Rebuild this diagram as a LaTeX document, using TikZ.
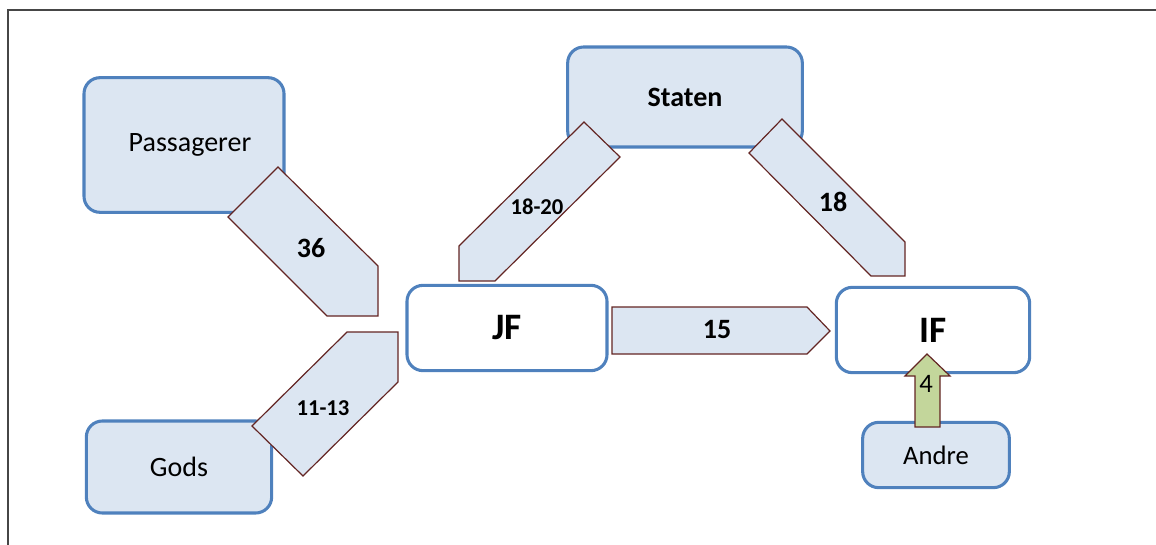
\documentclass[tikz,border=0pt]{standalone}
\usepackage{fontspec}
\setmainfont{Carlito}

\definecolor{boxfill}{RGB}{220,230,242}
\definecolor{boxline}{RGB}{79,129,189}
\definecolor{arrline}{RGB}{99,37,35}
\definecolor{arrgreen}{RGB}{195,214,155}

\tikzset{
	unit/.style={draw=boxline, line width=2.3pt, rounded corners=12pt, fill=boxfill, align=center, inner sep=0pt, font=\fontsize{21}{24}\selectfont},
	mainunit/.style={unit, fill=white, font=\fontsize{28}{32}\selectfont\bfseries},
	flow/.style={draw=arrline, line width=0.9pt, fill=boxfill, line join=miter},
	flowlabel/.style={inner sep=0.75pt, font=\fontsize{21}{24}\selectfont\bfseries},
	smallflowlabel/.style={inner sep=0.75pt, font=\fontsize{17}{20}\selectfont\bfseries}
}

\begin{document}
\begin{tikzpicture}[x=0.75pt,y=0.75pt,yscale=-1,xscale=1]
	\useasboundingbox (0,0) rectangle (1156,545);
	\draw [color={rgb, 255:red, 70; green, 70; blue, 70}, line width=1.1pt]  (8,545) -- (8,10) -- (1156,10) ;
	% boxes
	\node [unit, minimum width=150pt, minimum height=101pt] (pass) at (184,145) {\hspace*{9pt}\raisebox{3.5pt}{Passagerer}};
	\node [unit, minimum width=139pt, minimum height=69pt] (gods) at (179,467) {Gods};
	\node [unit, minimum width=176pt, minimum height=75pt, font=\fontsize{21}{24}\selectfont\bfseries] (staten) at (685,97) {Staten};
	\node [mainunit, minimum width=150pt, minimum height=64pt] (jf) at (507,328) {JF};
	\node [unit, minimum width=110pt, minimum height=49pt, font=\fontsize{20}{24}\selectfont] (andre) at (936,455) {Andre};
	\node [mainunit, minimum width=145pt, minimum height=64pt] (if) at (933,330) {IF};
	% flows
	\draw [flow]  (278,167) -- (378,266) -- (378,316) -- (327,316) -- (228,217) -- cycle ;
	\draw (311,248) node [flowlabel] (n36) {36};
	\draw [flow]  (347,332) -- (398,332) -- (398,382) -- (303,476) -- (252,426) -- cycle ;
	\draw (323,408) node [smallflowlabel] (n1113) {11-13};
	\draw [flow]  (584,122) -- (620,157) -- (495,281) -- (459,281) -- (459,246) -- cycle ;
	\draw (537,207) node [smallflowlabel] (n1820) {18-20};
	\draw [flow]  (782,119) -- (749,153) -- (871,276) -- (905,276) -- (905,242) -- cycle ;
	\draw (833,202) node [flowlabel] (n18) {18};
	\draw [flow]  (612,307) -- (807,307) -- (830,331) -- (807,354) -- (612,354) -- cycle ;
	\draw (717,330) node [flowlabel] (n15) {15};
	\draw [flow, fill=arrgreen]  (927,354) -- (950,376) -- (940,376) -- (940,427) -- (915,427) -- (915,376) -- (905,376) -- cycle ;
	\draw (926,384) node [inner sep=0.75pt, font=\fontsize{20}{24}\selectfont] (n4) {4};
\end{tikzpicture}
\end{document}
